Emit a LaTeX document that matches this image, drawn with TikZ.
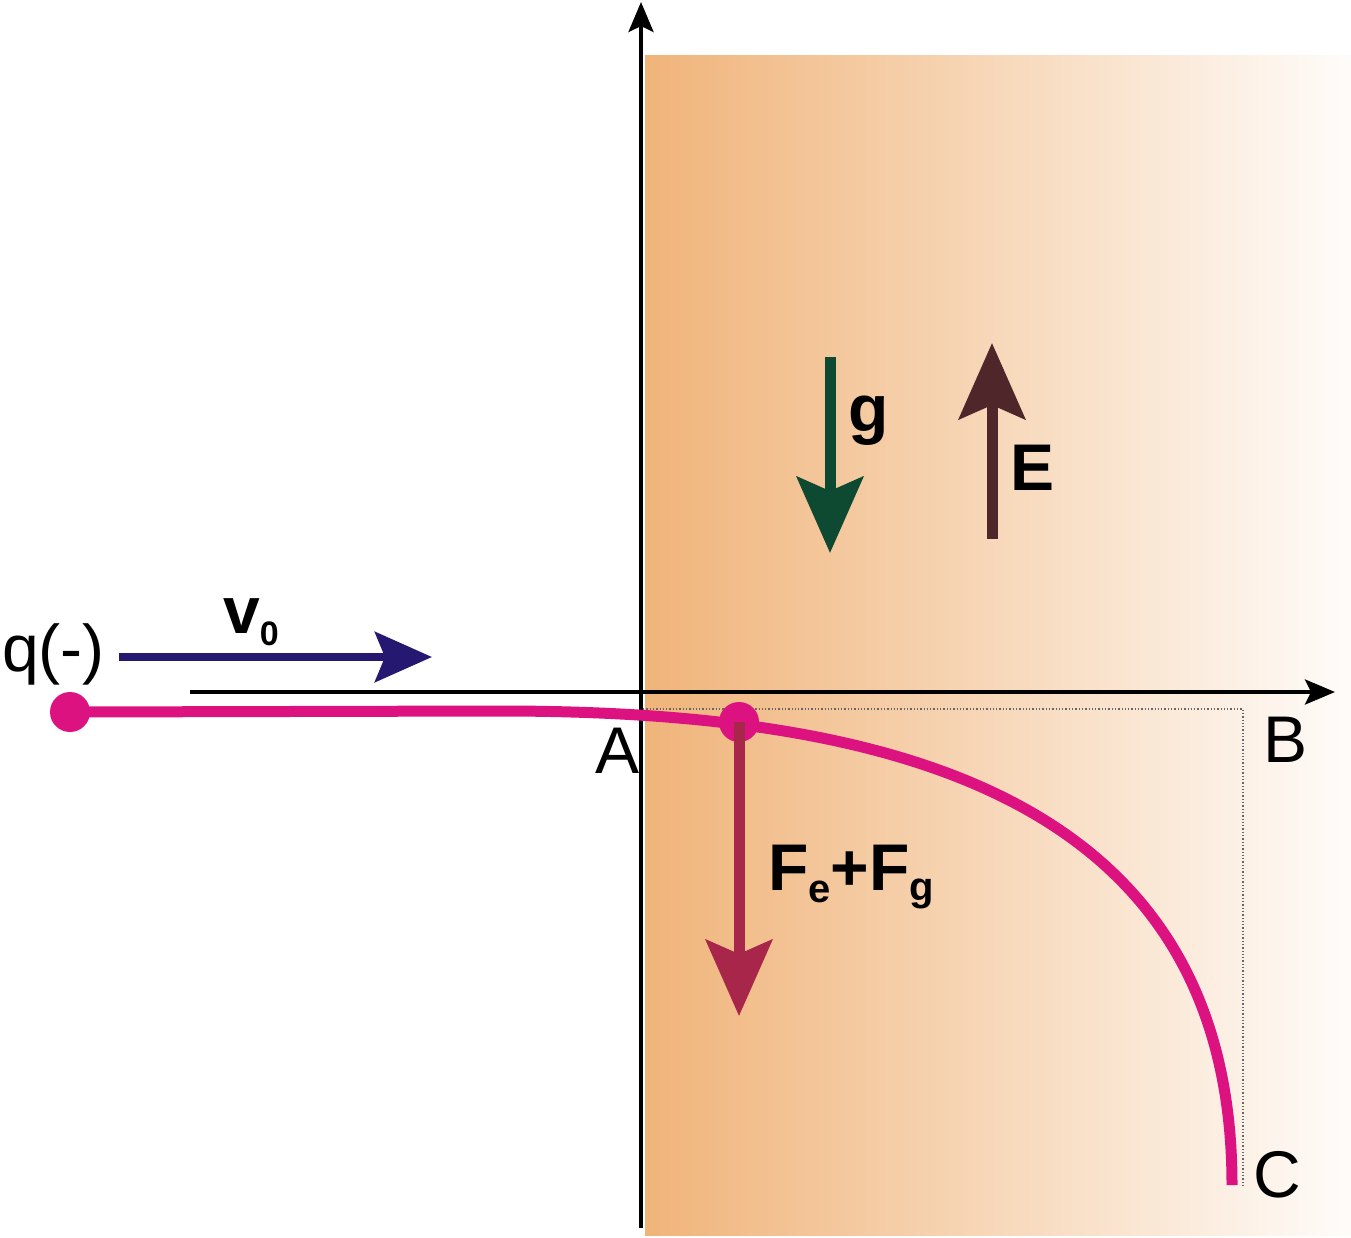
\documentclass[tikz,border=0pt]{standalone}
\usepackage{fontspec}
\setmainfont{Liberation Sans}
\usetikzlibrary{arrows.meta}
\definecolor{slab}{RGB}{240,180,122}
\definecolor{trackpink}{RGB}{220,18,128}
\definecolor{vblue}{RGB}{37,24,112}
\definecolor{ggreen}{RGB}{14,74,50}
\definecolor{ebrown}{RGB}{79,38,42}
\definecolor{fred}{RGB}{168,38,74}

\begin{document}
\begin{tikzpicture}[x=1pt,y=-1pt, % pixel units, y grows downward
  axis/.style={line width=4pt,-{Stealth[length=30pt,width=25pt,inset=6pt]}},
  vec/.style={line width=11pt,-{Stealth[length=76pt,width=66pt,inset=14pt]}},
  lbl/.style={font=\fontsize{66}{72}\selectfont,inner sep=0pt},
  blbl/.style={font=\fontsize{66}{72}\selectfont\bfseries,inner sep=0pt},
  dot/.style={circle,fill=trackpink,minimum size=40pt,inner sep=0pt},
  track/.style={trackpink,line width=11pt}]
\useasboundingbox (0,0) rectangle (1351,1237);

% field region
\shade[left color=slab,right color=white!96!slab] (645,55) rectangle (1351,1235);
\draw[black!60,dotted,line width=1.3pt] (643,709) -- (1243,709) -- (1243,1187);

% axes
\coordinate (xs) at (190,692);
\coordinate (xe) at (1335,692);
\coordinate (ys) at (641,1228);
\coordinate (ye) at (641,2);
\draw[axis] (xs) -- (xe);
\draw[axis] (ys) -- (ye);

% trajectory
\node[dot] (q) at (70,712) {};
\coordinate (bend) at (500,711);
\coordinate (Cend) at (1232,1185);
\draw[track] (q.center) -- (bend) .. controls (880,711) and (1232,790) .. (Cend);
\node[dot] (p) at (739,722) {};

% vectors
\coordinate (v1) at (119,657);
\coordinate (v2) at (432,657);
\draw[vec,vblue,line width=8pt,-{Stealth[length=57pt,width=50pt,inset=10pt]}] (v1) -- (v2);
\coordinate (g1) at (830,357);
\coordinate (g2) at (830,553);
\draw[vec,ggreen] (g1) -- (g2);
\coordinate (e1) at (992,539);
\coordinate (e2) at (992,343);
\draw[vec,ebrown] (e1) -- (e2);
\coordinate (f2) at (739,1016);
\draw[vec,fred] (p.center) -- (f2);

% labels
\node[lbl,anchor=base west] (qlab) at (2,671) {q(-)};
\node[blbl,anchor=base west] (vlab) at (223,633) {v\raisebox{-12pt}{\fontsize{34}{36}\selectfont 0}};
\node[lbl,anchor=base east] (A) at (640,773) {A};
\node[lbl,anchor=base west] (B) at (1263,762) {B};
\node[lbl,anchor=base west] (C) at (1253,1197) {C};
\node[blbl,anchor=base west] (glab) at (848,431) {g};
\node[blbl,anchor=base west] (elab) at (1010,490) {E};
\node[blbl,anchor=base west] (flab) at (768,890)
  {F\raisebox{-12pt}{\fontsize{40}{44}\selectfont e}+F\raisebox{-10pt}{\fontsize{40}{44}\selectfont g}};
\end{tikzpicture}
\end{document}
